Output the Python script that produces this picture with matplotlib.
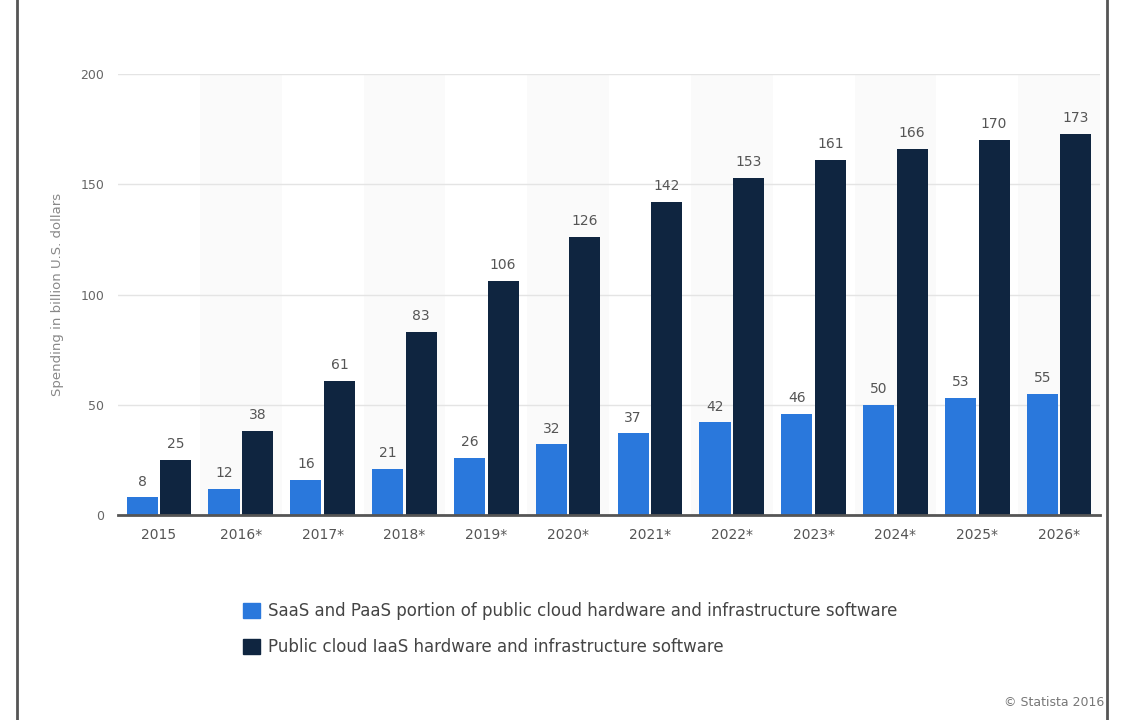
import matplotlib
matplotlib.use("Agg")
import matplotlib.pyplot as plt
from matplotlib.lines import Line2D
from matplotlib.patches import Rectangle
import numpy as np

plt.rcParams['font.family'] = ['DejaVu Sans']

years = ["2015", "2016*", "2017*", "2018*", "2019*", "2020*", "2021*", "2022*", "2023*", "2024*", "2025*", "2026*"]
saas_paas = [8, 12, 16, 21, 26, 32, 37, 42, 46, 50, 53, 55]
iaas = [25, 38, 61, 83, 106, 126, 142, 153, 161, 166, 170, 173]
label_saas = "SaaS and PaaS portion of public cloud hardware and infrastructure software"
label_iaas = "Public cloud IaaS hardware and infrastructure software"
yticks = [0, 50, 100, 150, 200]

c_light = "#2a78dc"
c_dark = "#0f2540"
txt = "#555555"

fig = plt.figure(figsize=(11.21, 7.2), dpi=100)
ax = fig.add_axes([0.1053, 0.2847, 0.8760, 0.6125])

x = np.arange(len(years))
w = 0.38
off = 0.205

for i in x:
    if i % 2 == 1:
        ax.axvspan(i - 0.5, i + 0.5, color="#fafafa", zorder=0, lw=0)

ax.bar(x - off, saas_paas, width=w, color=c_light, zorder=3)
ax.bar(x + off, iaas, width=w, color=c_dark, zorder=3)

for xi, v in zip(x - off, saas_paas):
    ax.text(xi, v + 4, str(v), ha="center", va="bottom", fontsize=10, color=txt, zorder=4)
for xi, v in zip(x + off, iaas):
    ax.text(xi, v + 4, str(v), ha="center", va="bottom", fontsize=10, color=txt, zorder=4)

ax.set_xlim(-0.5, len(years) - 0.5)
ax.set_ylim(0, 200)
ax.set_yticks(yticks)
ax.set_yticklabels([str(t) for t in yticks], fontsize=9, color="#666666")
ax.set_xticks(x)
ax.set_xticklabels(years, fontsize=10, color=txt)
ax.tick_params(axis="both", length=0)
ax.tick_params(axis="y", pad=10)
ax.tick_params(axis="x", pad=9)
for t in yticks[1:]:
    ax.axhline(t, color="#e4e4e4", lw=1, zorder=1)
for s in ["top", "right", "left"]:
    ax.spines[s].set_visible(False)
ax.spines["bottom"].set_color("#555555")
ax.spines["bottom"].set_linewidth(2)
ax.spines["bottom"].set_zorder(5)

ax.set_ylabel("Spending in billion U.S. dollars", fontsize=9.5, color="#888888", labelpad=12)

handles = [Rectangle((0, 0), 1, 1, color=c_light), Rectangle((0, 0), 1, 1, color=c_dark)]
fig.legend(handles, [label_saas, label_iaas], loc="upper left",
           bbox_to_anchor=(0.211, 0.173), frameon=False, fontsize=12,
           handlelength=1.0, handleheight=1.0, handletextpad=0.5,
           labelspacing=1.1, labelcolor="#444444", borderaxespad=0)

fig.text(0.985, 0.024, "© Statista 2016", ha="right", va="center", fontsize=9, color="#777777")

fig.add_artist(Line2D([0.0155, 0.0155], [0, 1], transform=fig.transFigure, color="#555555", lw=2))
fig.add_artist(Line2D([0.9875, 0.9875], [0, 1], transform=fig.transFigure, color="#555555", lw=2))

fig.savefig("out.png", dpi=100)
